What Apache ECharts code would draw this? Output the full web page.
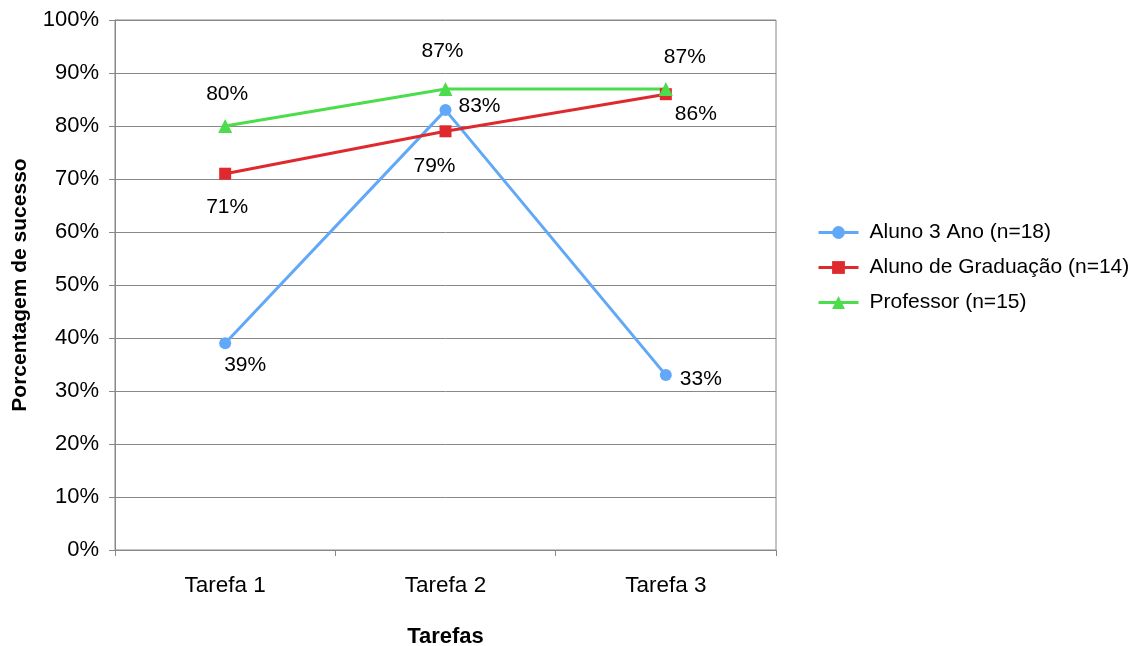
<!DOCTYPE html>
<html>
<head>
<meta charset="utf-8">
<script src="https://cdn.jsdelivr.net/npm/echarts@6/dist/echarts.min.js"></script>
<style>
  html, body { margin: 0; padding: 0; background: #fff; }
  #chart { width: 1143px; height: 646px; }
</style>
</head>
<body>
<div id="chart"></div>
<script>
// dados
const tarefas = ['Tarefa 1', 'Tarefa 2', 'Tarefa 3']
const aluno3Ano = [39, 83, 33]
const alunoGraduacao = [71, 79, 86]
const professor = [80, 87, 87]
const nomes = ['Aluno 3 Ano (n=18)', 'Aluno de Graduação (n=14)', 'Professor (n=15)']

// deslocamento dos rótulos (px) relativo ao ponto
const offAluno = [[20, 22], [34, -4], [35, 4]]
const offGrad = [[2, 34], [-11, 35], [30, 20]]
const offProf = [[2, -32], [-3, -38], [19, -32]]

const font = 'Arial, "Liberation Sans", sans-serif'

function pontos(vals, offs) {
  return vals.map((v, i) => ({
    value: v,
    label: { offset: offs[i] }
  }))
}

function serie(name, vals, offs, color, symbol, size) {
  return {
    name,
    type: 'line',
    data: pontos(vals, offs),
    symbol,
    symbolSize: size,
    lineStyle: { color, width: 3 },
    itemStyle: { color },
    label: {
      show: true,
      position: 'inside',
      formatter: '{c}%',
      color: '#000',
      fontFamily: font,
      fontSize: 21
    },
    z: 3
  }
}

const chart = echarts.init(document.getElementById('chart'))
chart.setOption({
  animation: false,
  backgroundColor: '#fff',
  textStyle: { fontFamily: font },
  grid: {
    left: 115, right: 367, top: 20, bottom: 96,
    outerBoundsMode: 'none',
    containLabel: false,
    show: true, borderColor: '#888', borderWidth: 1
  },
  legend: {
    orient: 'vertical',
    left: 812,
    top: 217,
    itemWidth: 40,
    itemHeight: 16,
    itemGap: 14,
    lineStyle: { width: 3 },
    textStyle: { fontSize: 21, color: '#000', fontFamily: font, padding: [0, 0, 0, 6] },
    data: nomes
  },
  xAxis: {
    type: 'category',
    data: tarefas,
    boundaryGap: true,
    name: 'Tarefas',
    nameLocation: 'middle',
    nameGap: 76,
    nameTextStyle: { fontSize: 22, fontWeight: 'bold', color: '#000', fontFamily: font },
    axisLine: { lineStyle: { color: '#888', width: 1 } },
    axisTick: { show: true, length: 6, lineStyle: { color: '#888' } },
    axisLabel: { fontSize: 22.5, color: '#000', margin: 24, fontFamily: font },
    splitLine: { show: false }
  },
  yAxis: {
    type: 'value',
    min: 0, max: 100, interval: 10,
    name: 'Porcentagem de sucesso',
    nameLocation: 'middle',
    nameGap: 84,
    nameTextStyle: { fontSize: 21, fontWeight: 'bold', color: '#000', fontFamily: font },
    axisLine: { show: true, lineStyle: { color: '#888', width: 1 } },
    axisTick: { show: true, length: 6, lineStyle: { color: '#888' } },
    axisLabel: { formatter: '{value}%', fontSize: 22, color: '#000', margin: 16, fontFamily: font },
    splitLine: { lineStyle: { color: '#888', width: 1 } }
  },
  series: [
    serie(nomes[0], aluno3Ano, offAluno, '#62A8F8', 'circle', 12),
    serie(nomes[1], alunoGraduacao, offGrad, '#DE2A2E', 'rect', 12),
    serie(nomes[2], professor, offProf, '#4CDD4C', 'triangle', 14)
  ]
})
</script>
</body>
</html>
